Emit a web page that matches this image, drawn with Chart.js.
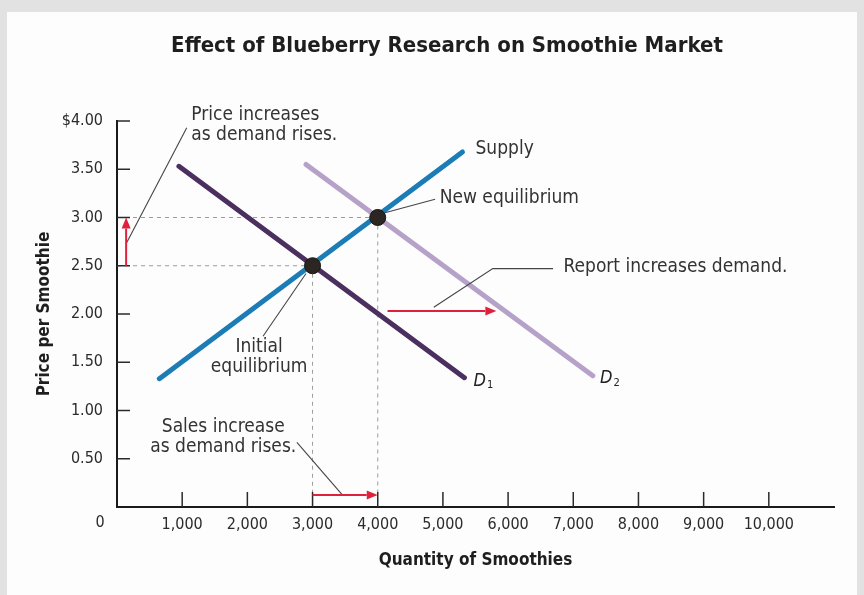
<!DOCTYPE html>
<html>
<head>
<meta charset="utf-8">
<script src="https://cdn.jsdelivr.net/npm/chart.js@4/dist/chart.umd.min.js"></script>
<style>
  html,body{margin:0;padding:0;background:#e2e2e2;}
  #wrap{width:864px;height:595px;}
</style>
</head>
<body>
<div id="wrap"><canvas id="c" width="864" height="595"></canvas></div>
<script>
// ---- data ----
const xTickValues = [1000,2000,3000,4000,5000,6000,7000,8000,9000,10000];
const yTickValues = [0.5,1.0,1.5,2.0,2.5,3.0,3.5,4.0];
const supplyQty   = [650, 5300];
const supplyPrice = [1.33, 3.68];
const d1Qty       = [950, 5330];
const d1Price     = [3.53, 1.34];
const d2Qty       = [2900, 7300];
const d2Price     = [3.55, 1.36];
const eqQty       = [3000, 4000];
const eqPrice     = [2.50, 3.00];
const priceArrow  = [2.50, 3.00];      // vertical red arrow (price)
const salesArrow  = [3000, 4000];      // horizontal red arrow (quantity)
const shiftArrow  = [4150, 5820];      // demand shift arrow
const shiftArrowPrice = 2.03;
const salesArrowPrice = 0.125;
const priceArrowQty = 140;

const FONT = "'Liberation Sans Narrow','DejaVu Sans Condensed','Roboto Condensed','Arial Narrow',Roboto,sans-serif";
const INK = '#2b2b2b';

function pts(xs, ys){ return xs.map((x,i)=>({x:x, y:ys[i]})); }

// guide lines (dashed) built from equilibrium points
const guides = [];
eqQty.forEach((q,i)=>{
  guides.push([{x:0,y:eqPrice[i]},{x:q,y:eqPrice[i]}]);
  guides.push([{x:q,y:eqPrice[i]},{x:q,y:0}]);
});

const datasets = guides.map(g=>({
  type:'line', data:g, borderColor:'#9c9c9c', borderWidth:1, borderDash:[4,4],
  pointRadius:0, fill:false, order:5
}));
datasets.push(
  {type:'line', label:'Supply', data:pts(supplyQty,supplyPrice), borderColor:'#1b7cb6', borderWidth:5, borderCapStyle:'round', pointRadius:0, order:3},
  {type:'line', label:'D1', data:pts(d1Qty,d1Price), borderColor:'#4a2f5f', borderWidth:5, borderCapStyle:'round', pointRadius:0, order:3},
  {type:'line', label:'D2', data:pts(d2Qty,d2Price), borderColor:'#b6a1c8', borderWidth:5, borderCapStyle:'round', pointRadius:0, order:4},
  {type:'scatter', label:'Equilibria', data:pts(eqQty,eqPrice), backgroundColor:'#2c2622', borderColor:'#1a1512', borderWidth:1, pointRadius:8, order:1}
);

// annotation texts, positioned in data units
const notes = [
  {lines:['Price increases','as demand rises.'], x:1140, y:4.06, align:'left'},
  {lines:['Supply'], x:5500, y:3.71, align:'left'},
  {lines:['New equilibrium'], x:4950, y:3.20, align:'left'},
  {lines:['Report increases demand.'], x:6850, y:2.49, align:'left'},
  {lines:['Initial','equilibrium'], x:2180, y:1.66, align:'center'},
  {lines:['Sales increase','as demand rises.'], x:1630, y:0.83, align:'center'}
];
const leaders = [
  [{x:1070,y:3.93},{x:150,y:2.74}],
  [{x:4110,y:3.05},{x:4880,y:3.19}],
  [{x:4860,y:2.07},{x:5765,y:2.47},{x:6690,y:2.47}],
  [{x:2900,y:2.42},{x:2240,y:1.77}],
  [{x:2760,y:0.67},{x:3450,y:0.13}]
];

const bg = {
  id:'bg',
  beforeDraw(chart){
    const ctx = chart.ctx;
    ctx.save();
    ctx.fillStyle = '#e2e2e2';
    ctx.fillRect(0,0,chart.width,chart.height);
    ctx.fillStyle = '#fdfdfd';
    ctx.fillRect(7,12,chart.width-14,chart.height-12);
    ctx.restore();
  }
};

function arrow(ctx, x1,y1,x2,y2){
  const ang = Math.atan2(y2-y1, x2-x1);
  const hl = 11, hw = 4.5;
  const bx = x2 - hl*Math.cos(ang), by = y2 - hl*Math.sin(ang);
  ctx.beginPath(); ctx.moveTo(x1,y1); ctx.lineTo(bx,by); ctx.stroke();
  ctx.beginPath();
  ctx.moveTo(x2,y2);
  ctx.lineTo(bx + hw*Math.sin(ang), by - hw*Math.cos(ang));
  ctx.lineTo(bx - hw*Math.sin(ang), by + hw*Math.cos(ang));
  ctx.closePath(); ctx.fill();
}

const deco = {
  id:'deco',
  afterDraw(chart){
    const ctx = chart.ctx, xs = chart.scales.x, ys = chart.scales.y;
    const X = v=>xs.getPixelForValue(v), Y = v=>ys.getPixelForValue(v);
    const a = chart.chartArea;
    ctx.save();
    // title
    ctx.fillStyle = '#1e1e1e';
    ctx.font = "bold 22px " + FONT;
    ctx.textAlign = 'center'; ctx.textBaseline = 'middle';
    ctx.fillText('Effect of Blueberry Research on Smoothie Market', 447, 46);
    // inward ticks
    ctx.strokeStyle = '#2a2a2a'; ctx.lineWidth = 1.5;
    yTickValues.forEach(v=>{ ctx.beginPath(); ctx.moveTo(a.left, Y(v)); ctx.lineTo(a.left+13, Y(v)); ctx.stroke(); });
    xTickValues.forEach(v=>{ ctx.beginPath(); ctx.moveTo(X(v), a.bottom); ctx.lineTo(X(v), a.bottom-15); ctx.stroke(); });
    // zero label
    ctx.fillStyle = INK; ctx.font = "16px " + FONT;
    ctx.fillText('0', a.left-17, a.bottom+16);
    // leader lines
    ctx.strokeStyle = '#454545'; ctx.lineWidth = 1.1;
    leaders.forEach(l=>{
      ctx.beginPath();
      l.forEach((p,i)=> i? ctx.lineTo(X(p.x),Y(p.y)) : ctx.moveTo(X(p.x),Y(p.y)));
      ctx.stroke();
    });
    // red arrows
    ctx.strokeStyle = '#e0213d'; ctx.fillStyle = '#e0213d'; ctx.lineWidth = 2;
    arrow(ctx, X(priceArrowQty), Y(priceArrow[0]), X(priceArrowQty), Y(priceArrow[1]));
    arrow(ctx, X(salesArrow[0]), Y(salesArrowPrice), X(salesArrow[1]), Y(salesArrowPrice));
    arrow(ctx, X(shiftArrow[0]), Y(shiftArrowPrice), X(shiftArrow[1]), Y(shiftArrowPrice));
    // annotations
    ctx.fillStyle = '#333'; ctx.font = "19px " + FONT; ctx.textBaseline = 'middle';
    notes.forEach(n=>{
      ctx.textAlign = n.align;
      n.lines.forEach((t,i)=> ctx.fillText(t, X(n.x), Y(n.y) + i*20));
    });
    // D labels
    ctx.textAlign = 'left';
    const dlab = [[5470, 1.30, '1'], [7410, 1.33, '2']];
    dlab.forEach(d=>{
      ctx.font = "italic 18px " + FONT; ctx.fillStyle = '#222';
      ctx.fillText('D', X(d[0]), Y(d[1]));
      const w = ctx.measureText('D').width;
      ctx.font = "11px " + FONT;
      ctx.fillText(d[2], X(d[0]) + w + 1, Y(d[1]) + 4);
    });
    ctx.restore();
  }
};

new Chart(document.getElementById('c'), {
  type:'scatter',
  data:{datasets},
  options:{
    responsive:false, animation:false,
    layout:{padding:{left:0, right:30, top:121, bottom:0}},
    plugins:{legend:{display:false}, tooltip:{enabled:false}, title:{display:false}},
    scales:{
      x:{
        type:'linear', min:0, max:11000,
        afterFit(s){ s.height = 88; },
        afterBuildTicks(s){ s.ticks = xTickValues.map(v=>({value:v})); },
        grid:{display:false, drawTicks:false},
        border:{display:true, color:'#1a1a1a', width:2},
        ticks:{padding:8, color:INK, font:{family:FONT, size:16}, maxRotation:0, autoSkip:false,
          callback:v=>v.toLocaleString('en-US')},
        title:{display:true, text:'Quantity of Smoothies', color:'#1e1e1e',
          font:{family:FONT, size:17, weight:'bold'}, padding:{top:0,bottom:24}}
      },
      y:{
        type:'linear', min:0, max:4,
        afterFit(s){ s.width = 117; },
        afterBuildTicks(s){ s.ticks = yTickValues.map(v=>({value:v})); },
        grid:{display:false, drawTicks:false},
        border:{display:true, color:'#1a1a1a', width:2},
        ticks:{padding:14, color:INK, font:{family:FONT, size:16}, autoSkip:false,
          callback:v=> v===4 ? '$4.00' : v.toFixed(2)},
        title:{display:true, text:'Price per Smoothie', color:'#1e1e1e',
          font:{family:FONT, size:17, weight:'bold'}, padding:{top:34,bottom:0}}
      }
    }
  },
  plugins:[bg, deco]
});
</script>
</body>
</html>
